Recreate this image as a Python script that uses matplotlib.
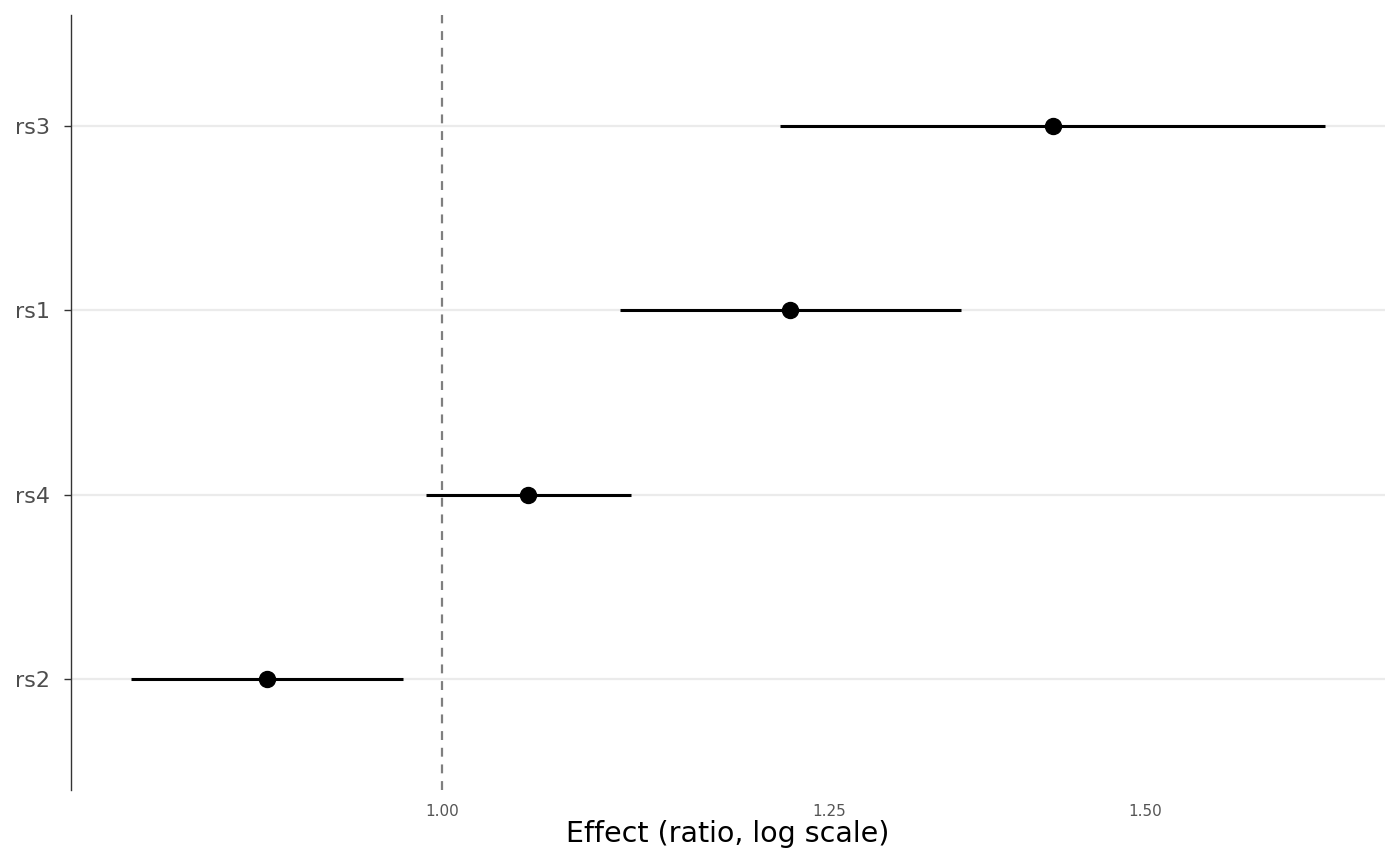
import matplotlib
matplotlib.use("Agg")
import matplotlib.pyplot as plt
from matplotlib.ticker import FixedLocator, NullLocator

# data (bottom to top)
snps = ["rs2", "rs4", "rs1", "rs3"]
effect = [0.904, 1.051, 1.222, 1.422]
ci_low = [0.836, 0.991, 1.108, 1.215]
ci_high = [0.978, 1.115, 1.349, 1.664]
xticks = [1.00, 1.25, 1.50]
xtick_labels = ["1.00", "1.25", "1.50"]

fig = plt.figure(figsize=(14, 8.66), dpi=100)
ax = fig.add_axes([71 / 1400, 1 - 790 / 866, (1385 - 71) / 1400, (790 - 15) / 866])

ypos = list(range(1, len(snps) + 1))

for y in ypos:
    ax.axhline(y, color="#ebebeb", lw=1.6, zorder=0)

ax.axvline(1.0, color="#7f7f7f", lw=1.6, ls=(0, (4, 3.5)), zorder=1)

ax.hlines(ypos, ci_low, ci_high, color="black", lw=2.2, zorder=2)
ax.plot(effect, ypos, "o", color="black", ms=11.5, zorder=3)

ax.set_xscale("log")
ax.set_xlim(0.8076, 1.7222)
ax.set_ylim(0.4, 4.6)

ax.xaxis.set_major_locator(FixedLocator(xticks))
ax.xaxis.set_minor_locator(NullLocator())
ax.set_xticklabels(xtick_labels)
ax.tick_params(axis="x", length=0, labelsize=11, labelcolor="#555555", pad=10)

ax.set_yticks(ypos)
ax.set_yticklabels(snps)
ax.tick_params(axis="y", length=5, width=1, color="#333333", labelsize=16,
               labelcolor="#4d4d4d", pad=10)

for s in ["top", "right", "bottom"]:
    ax.spines[s].set_visible(False)
ax.spines["left"].set_color("#333333")
ax.spines["left"].set_linewidth(1)

ax.set_xlabel("Effect (ratio, log scale)", fontsize=20.5, color="black", labelpad=1)

fig.savefig("out.png", dpi=100)
